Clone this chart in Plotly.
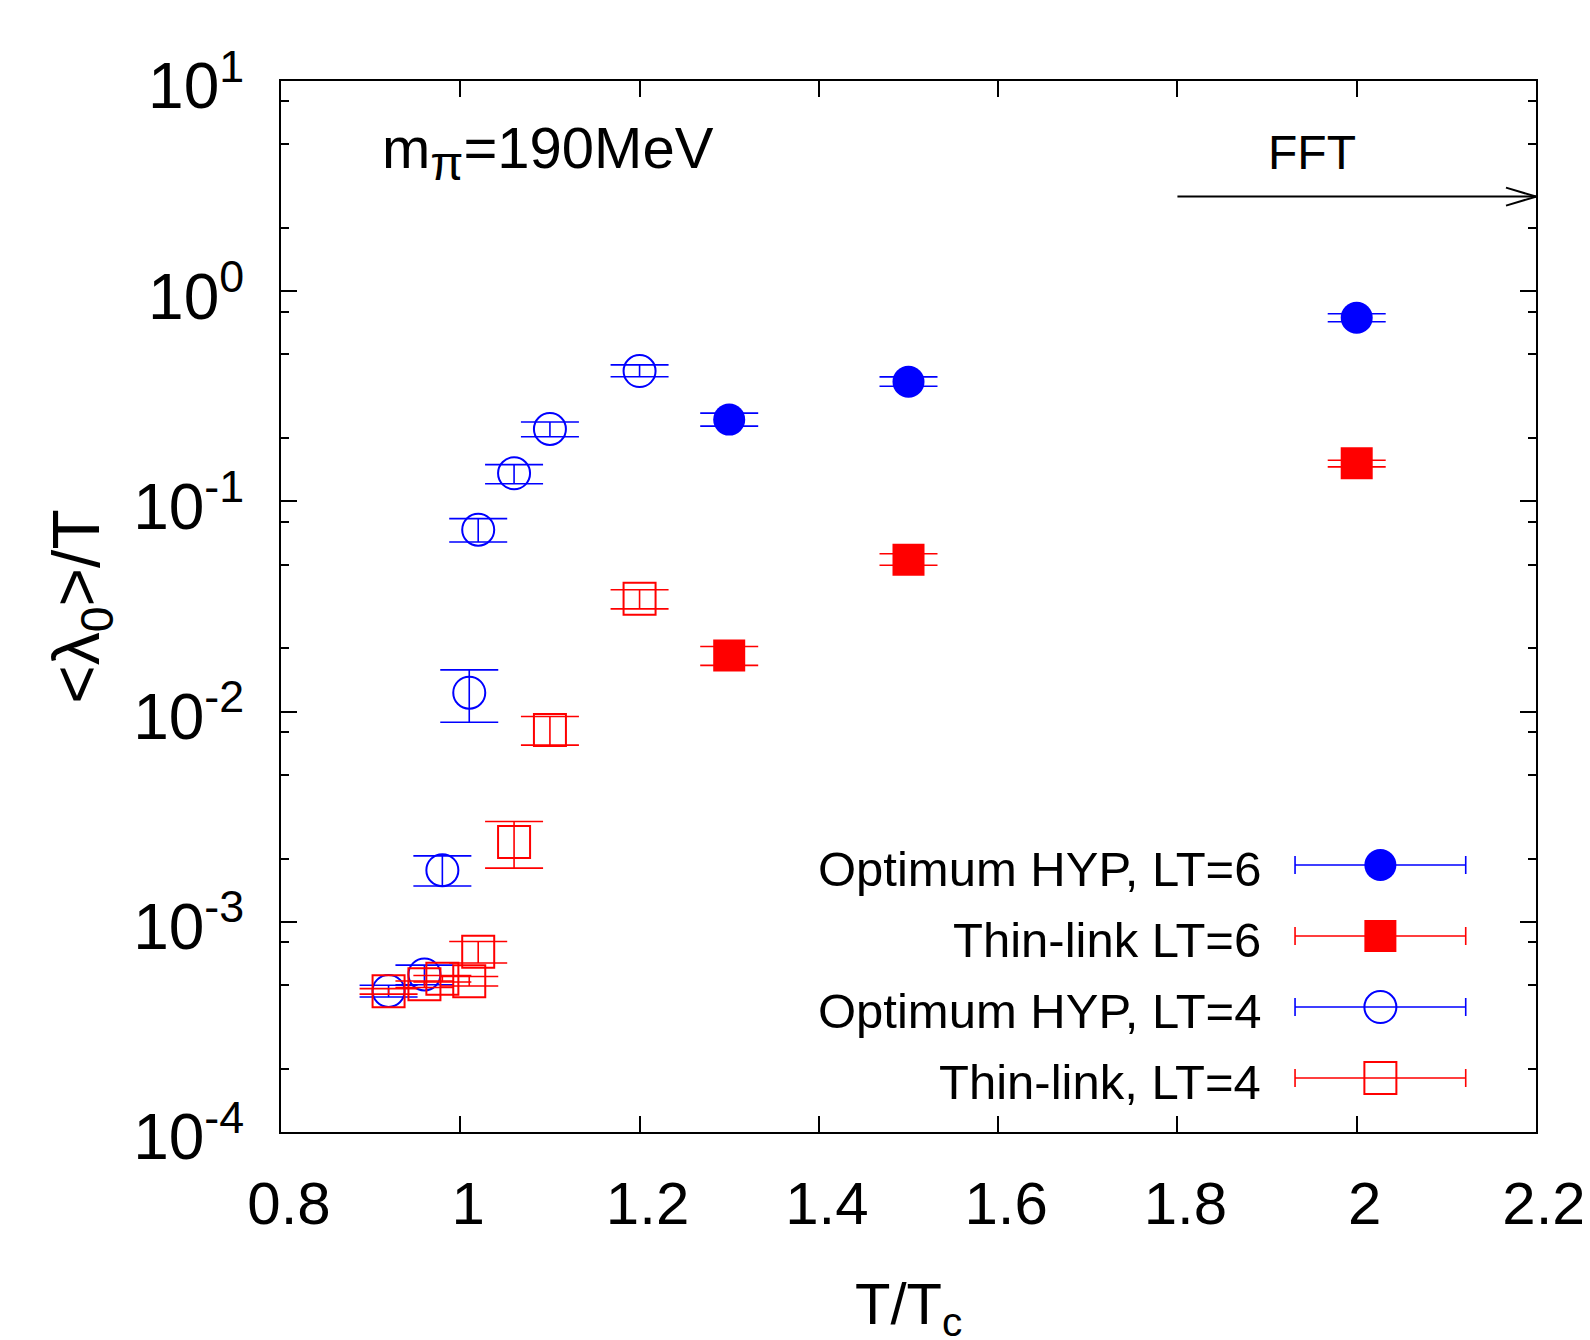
import plotly.graph_objects as go

# ---------------- data ----------------
x_hyp6 = [1.3, 1.5, 2.0]
y_hyp6 = [0.245, 0.371, 0.748]
ep_hyp6 = [0.018, 0.020, 0.033]
em_hyp6 = [0.017, 0.018, 0.033]

x_thin6 = [1.3, 1.5, 2.0]
y_thin6 = [0.0185, 0.0528, 0.152]
ep_thin6 = [0.0019, 0.0036, 0.005]
em_thin6 = [0.0019, 0.0031, 0.006]

x_hyp4 = [0.92, 0.96, 0.98, 1.01, 1.02, 1.06, 1.10, 1.20]
y_hyp4 = [0.000469, 0.000562, 0.00176, 0.0123, 0.0733, 0.136, 0.221, 0.417]
ep_hyp4 = [0.00003, 0.00006, 0.0003, 0.0035, 0.0095, 0.0136, 0.0175, 0.029]
em_hyp4 = [0.00003, 0.00006, 0.00028, 0.0034, 0.0092, 0.0146, 0.018, 0.025]

x_thin4 = [0.92, 0.96, 0.98, 1.01, 1.02, 1.06, 1.10, 1.20]
y_thin4 = [0.000467, 0.000505, 0.000536, 0.000522, 0.000721, 0.0024, 0.00818, 0.0344]
ep_thin4 = [0.000014, 0.000018, 0.000019, 0.000027, 0.000085, 0.0006, 0.0013, 0.0036]
em_thin4 = [0.000014, 0.000018, 0.000019, 0.000027, 0.000084, 0.0006, 0.00125, 0.0036]

series_names = ["Optimum HYP, LT=6", "Thin-link LT=6", "Optimum HYP, LT=4", "Thin-link, LT=4"]
x_ticks = [0.8, 1.0, 1.2, 1.4, 1.6, 1.8, 2.0, 2.2]
y_ticks = [1e-4, 1e-3, 1e-2, 1e-1, 1e0, 1e1]
y_ticktext = ["10<sup>-4</sup>", "10<sup>-3</sup>", "10<sup>-2</sup>",
              "10<sup>-1</sup>", "10<sup>0</sup>", "10<sup>1</sup>"]
y_minor = [m * d for d in [1e-4, 1e-3, 1e-2, 1e-1, 1e0] for m in (2, 5, 8)]

BLUE = "rgb(0,0,255)"
RED = "rgb(255,0,0)"
FONT = "Liberation Sans, Arial, Helvetica, sans-serif"

styles = [
    (x_hyp6, y_hyp6, ep_hyp6, em_hyp6, BLUE, "circle"),
    (x_thin6, y_thin6, ep_thin6, em_thin6, RED, "square"),
    (x_hyp4, y_hyp4, ep_hyp4, em_hyp4, BLUE, "circle-open"),
    (x_thin4, y_thin4, ep_thin4, em_thin4, RED, "square-open"),
]

fig = go.Figure()
MS = 32
for (xs, ys, ep, em, col, sym), name in zip(styles, series_names):
    fig.add_trace(go.Scatter(
        x=xs, y=ys, mode="markers", name=name, showlegend=False,
        marker=dict(symbol=sym, size=MS, color=col,
                    line=dict(color=col, width=2 if "open" in sym else 0)),
        error_y=dict(type="data", array=ep, arrayminus=em, symmetric=False,
                     color=col, thickness=1.6, width=29),
    ))

# ---------------- manual legend (text left, sample right) ----------------
legend_rows = [0.254, 0.1865, 0.1189, 0.0514]
for (xs, ys, ep, em, col, sym), name, ly in zip(styles, series_names, legend_rows):
    fig.add_trace(go.Scatter(
        x=[0.876], y=[ly], xaxis="x2", yaxis="y2", mode="markers",
        showlegend=False, hoverinfo="skip",
        marker=dict(symbol=sym, size=MS, color=col,
                    line=dict(color=col, width=2 if "open" in sym else 0)),
        error_x=dict(type="data", array=[0.068], color=col, thickness=1.6, width=9),
    ))
    fig.add_annotation(x=0.7822, y=ly - 0.004, xref="paper", yref="paper",
                       text=name, showarrow=False, xanchor="right", yanchor="middle",
                       font=dict(size=49, color="black", family=FONT))

axis_common = dict(showline=True, linecolor="black", linewidth=2, mirror="ticks",
                   ticks="inside", ticklen=16, tickwidth=2, tickcolor="black",
                   showgrid=False, zeroline=False)

fig.update_layout(
    width=1590, height=1340,
    margin=dict(l=273, r=59, t=73, b=216),
    paper_bgcolor="white", plot_bgcolor="white",
    font=dict(family=FONT, color="black"),
    xaxis=dict(range=[0.8, 2.2], tickvals=x_ticks,
               ticklabelstandoff=18, ticklabelshift=8,
               tickfont=dict(size=60, color="black", family=FONT),
               **axis_common),
    yaxis=dict(type="log", range=[-4, 1], tickvals=y_ticks, ticktext=y_ticktext,
               ticklabelstandoff=22, ticklabelshift=5,
               tickfont=dict(size=64, color="black", family=FONT),
               minor=dict(tickvals=y_minor, ticks="inside", ticklen=8,
                          tickwidth=2, tickcolor="black", showgrid=False),
               **axis_common),
    xaxis2=dict(overlaying="x", range=[0, 1], visible=False, anchor="y2"),
    yaxis2=dict(overlaying="y", range=[0, 1], visible=False, anchor="x2"),
)

# axis titles
fig.add_annotation(x=0.5, y=-0.167, xref="paper", yref="paper",
                   text="T/T<sub>c</sub>", showarrow=False,
                   xanchor="center", yanchor="middle",
                   font=dict(size=58, color="black", family=FONT))
fig.add_annotation(x=-0.160, y=0.50, xref="paper", yref="paper",
                   text="&lt;λ<sub>0</sub>&gt;/T", textangle=-90, showarrow=False,
                   xanchor="center", yanchor="middle",
                   font=dict(size=66, color="black", family=FONT))

# labels inside plot
fig.add_annotation(x=0.0787, y=0.9324, xref="paper", yref="paper",
                   text="m<sub><span style='font-size:48px'>π</span></sub>=190MeV",
                   showarrow=False, xanchor="left", yanchor="middle",
                   font=dict(size=58, color="black", family=FONT))
fig.add_annotation(x=1.95, y=0.9315, xref="x", yref="paper",
                   text="FFT", showarrow=False, xanchor="center", yanchor="middle",
                   font=dict(size=48, color="black", family=FONT))

# FFT arrow: 1.8 -> 2.2
ARROW_Y = 0.890
fig.add_shape(type="line", xref="x", yref="paper", x0=1.8, x1=2.2,
              y0=ARROW_Y, y1=ARROW_Y, line=dict(color="black", width=2))
for dy in (9, -9):
    fig.add_shape(type="line", xref="x", yref="paper",
                  xsizemode="pixel", ysizemode="pixel",
                  xanchor=2.2, yanchor=ARROW_Y,
                  x0=-30, x1=0, y0=dy, y1=0,
                  line=dict(color="black", width=2))

fig.write_html("out.html")
